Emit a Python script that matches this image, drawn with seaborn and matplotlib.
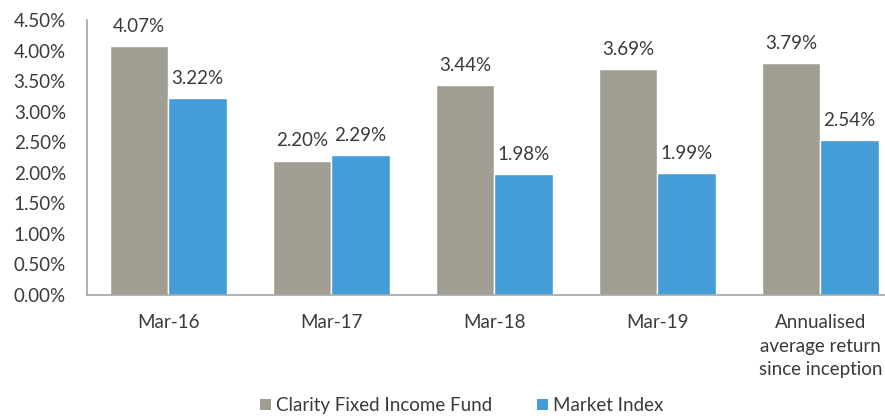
import matplotlib
matplotlib.use("Agg")
import matplotlib.pyplot as plt
import pandas as pd
import seaborn as sns
from matplotlib.ticker import FuncFormatter, MultipleLocator
from matplotlib.patches import Patch

# -------------------- Data --------------------

periods = ["Mar-16", "Mar-17", "Mar-18", "Mar-19",
           "Annualised\naverage return\nsince inception"]
fund_returns = [4.07, 2.20, 3.44, 3.69, 3.79]
index_returns = [3.22, 2.29, 1.98, 1.99, 2.54]
series_names = ["Clarity Fixed Income Fund", "Market Index"]
colors = ["#A09E92", "#449DD7"]

df = pd.DataFrame({
    "period": periods * 2,
    "value": fund_returns + index_returns,
    "series": [series_names[0]] * len(periods) + [series_names[1]] * len(periods),
})

# -------------------- Plot --------------------

sns.set_theme(style="white")
plt.rcParams["font.family"] = ["Lato", "DejaVu Sans"]
text_color = "#3A3A3A"
fs = 13.5

fig = plt.figure(figsize=(8.85, 4.16), dpi=100)
ax = fig.add_axes([0.098, 0.291, 0.921, 0.661])

sns.barplot(data=df, x="period", y="value", hue="series", palette=colors,
            width=0.715, edgecolor="white", linewidth=1, saturation=1,
            legend=False, ax=ax)

for container in ax.containers:
    ax.bar_label(container, fmt="%.2f%%", padding=8, fontsize=fs, color=text_color)

ax.set_ylim(0, 4.5)
ax.set_xlim(-0.5, 4.5)
ax.yaxis.set_major_locator(MultipleLocator(0.5))
ax.yaxis.set_major_formatter(FuncFormatter(lambda v, p: "{:.2f}%".format(v)))
ax.set_xlabel("")
ax.set_ylabel("")
ax.tick_params(axis="y", length=0, pad=15, labelsize=fs, labelcolor=text_color)
ax.tick_params(axis="x", length=0, pad=14, labelsize=fs, labelcolor=text_color)
for lbl in ax.get_xticklabels():
    lbl.set_linespacing(1.45)

for side in ["top", "right"]:
    ax.spines[side].set_visible(False)
for side in ["left", "bottom"]:
    ax.spines[side].set_color("#A6A6A6")
    ax.spines[side].set_linewidth(1.2)

handles = [Patch(facecolor=c, edgecolor="none") for c in colors]
fig.legend(handles, series_names, loc="center", bbox_to_anchor=(0.522, 0.025),
           ncol=2, frameon=False, fontsize=fs, handlelength=0.55, handleheight=0.55,
           handletextpad=0.3, columnspacing=2.4, labelcolor=text_color)

fig.savefig("out.png", dpi=100)
